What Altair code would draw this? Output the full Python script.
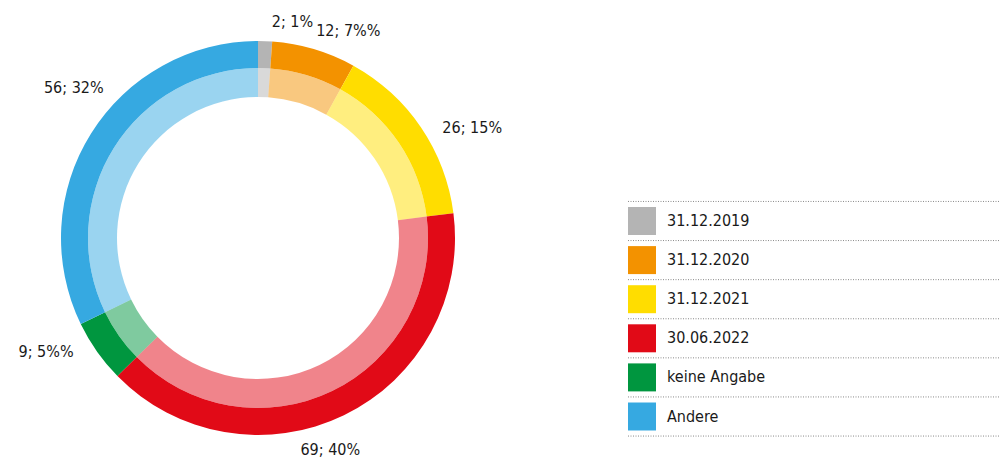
import altair as alt
import pandas as pd

categories = ["31.12.2019", "31.12.2020", "31.12.2021", "30.06.2022", "keine Angabe", "Andere"]
values = [2, 12, 26, 69, 9, 56]
labels = ["2; 1%", "12; 7%%", "26; 15%", "69; 40%", "9; 5%%", "56; 32%"]
colors = ["#b4b4b4", "#f39200", "#ffdd00", "#e10a17", "#00963f", "#36a9e1"]

df = pd.DataFrame({"cat": categories, "value": values, "label": labels,
                   "idx": list(range(len(categories)))})

FONT = "Liberation Sans Narrow, DejaVu Sans Condensed, Roboto Condensed, Roboto, sans-serif"
CX, CY = 250, 230
R_OUT, R_MID, R_IN = 197, 170, 141

color = alt.Color("cat:N", scale=alt.Scale(domain=categories, range=colors), legend=None)
base = alt.Chart(df)

outer = base.mark_arc(outerRadius=R_OUT, innerRadius=R_MID).encode(
    theta=alt.Theta("value:Q", stack=True),
    order=alt.Order("idx:Q"),
    color=color,
    x=alt.value(CX), y=alt.value(CY),
)
inner = base.mark_arc(outerRadius=R_MID, innerRadius=R_IN, opacity=0.5).encode(
    theta=alt.Theta("value:Q", stack=True),
    order=alt.Order("idx:Q"),
    color=color,
    x=alt.value(CX), y=alt.value(CY),
)

text_layer = base.transform_window(
    cum="sum(value)", sort=[alt.SortField("idx")]
).transform_joinaggregate(
    total="sum(value)"
).transform_calculate(
    mid="(datum.cum - datum.value/2)/datum.total*2*PI + 7*PI/180"
).transform_calculate(
    r="214 + 30*abs(sin(datum.mid))"
).transform_calculate(
    lx=f"{CX} + datum.r*sin(datum.mid)",
    ly=f"{CY} - datum.r*cos(datum.mid)",
).mark_text(font=FONT, fontSize=16, color="#1a1a1a", align="center", baseline="middle").encode(
    x=alt.X("lx:Q", scale=None),
    y=alt.Y("ly:Q", scale=None),
    text="label:N",
)

ys = alt.Scale(domain=[0, 5], range=[213, 408.5])

leg_sq = base.mark_square(size=784, opacity=1).encode(
    x=alt.value(634),
    y=alt.Y("idx:Q", scale=ys, axis=None),
    color=color,
)
leg_txt = base.mark_text(font=FONT, fontSize=16, color="#1a1a1a", align="left", baseline="middle").encode(
    x=alt.value(659),
    y=alt.Y("idx:Q", scale=ys, axis=None),
    text="cat:N",
)
leg_lines = base.transform_calculate(ly="datum.idx - 0.5").mark_rule(
    color="#8a8a8a", strokeDash=[1, 1.5], strokeWidth=1
).encode(
    x=alt.value(620), x2=alt.value(1000),
    y=alt.Y("ly:Q", scale=ys, axis=None),
)
leg_last = base.transform_filter("datum.idx == 5").transform_calculate(ly="datum.idx + 0.5").mark_rule(
    color="#8a8a8a", strokeDash=[1, 1.5], strokeWidth=1
).encode(
    x=alt.value(620), x2=alt.value(1000),
    y=alt.Y("ly:Q", scale=ys, axis=None),
)

chart = alt.layer(outer, inner, text_layer, leg_lines, leg_last, leg_sq, leg_txt).properties(
    width=992, height=455, padding=0, autosize=alt.AutoSizeParams(type="none"),
    background="white",
).configure_view(stroke=None)

chart.save("out.html", embed_options={"renderer": "svg", "actions": False})
